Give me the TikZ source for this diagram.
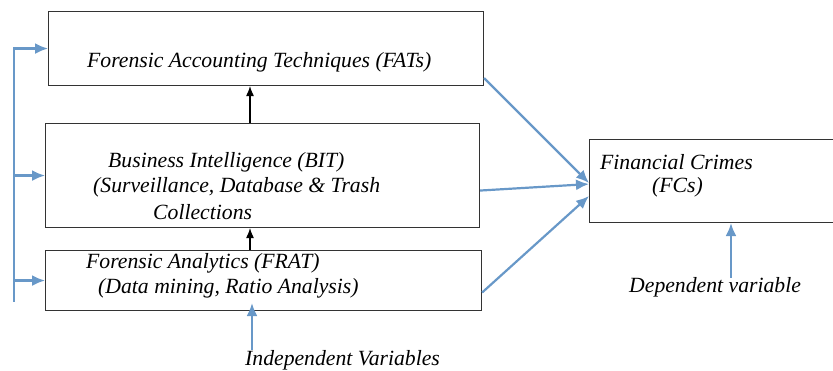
\documentclass[tikz,border=0pt]{standalone}
\usepackage{fontspec}
\setmainfont{Liberation Serif}
\usetikzlibrary{positioning,arrows.meta}
\definecolor{arrowblue}{RGB}{104,152,200}
\tikzset{>=latex}
\tikzset{
    box/.style={draw=black!80, line width=1.1pt, anchor=north west, inner sep=0pt},
    txt/.style={anchor=west, inner sep=0pt, font=\fontsize{21.7}{24}\selectfont\itshape},
    bluearrow/.style={draw=arrowblue, line width=2.2pt, -{Latex[length=13pt,width=11pt]}},
    blackarrow/.style={draw=black, line width=1.1pt, -{Latex[length=10pt,width=8pt]}},
}
\begin{document}
\begin{tikzpicture}[x=1pt,y=-1pt]
    \useasboundingbox (0,0) rectangle (833,371);

    % Boxes.
    \node[box, minimum width=435pt, minimum height=74pt]  (fat)  at (48,11)  {};
    \node[box, minimum width=434pt, minimum height=104pt] (bit)  at (45,123) {};
    \node[box, minimum width=436pt, minimum height=60pt]  (frat) at (45,250) {};
    \node[box, minimum width=250pt, minimum height=83pt]  (fc)   at (589,139) {};

    % Texts.
    \node[txt] (fattext)  at (87,62)   {Forensic Accounting Techniques (FATs)};
    \node[txt] (bittext1) at (108,162) {Business Intelligence (BIT)};
    \node[txt] (bittext2) at (93,187)  {(Surveillance, Database \& Trash};
    \node[txt] (bittext3) at (153,212) {Collections};
    \node[txt] (fratext1) at (86,263)  {Forensic Analytics (FRAT)};
    \node[txt] (fratext2) at (98,288)  {(Data mining, Ratio Analysis)};
    \node[txt] (fctext1)  at (600,162) {Financial Crimes};
    \node[txt] (fctext2)  at (652,187) {(FCs)};
    \node[txt] (indep)    at (245,360) {Independent Variables};
    \node[txt] (dep)      at (629,287) {Dependent variable};

    % Feedback bracket on the left.
    \coordinate (bbot) at (14,302);
    \draw[bluearrow] (bbot) |- (fat.west);
    \draw[bluearrow] (bbot |- bit.west) -- (bit.west);
    \draw[bluearrow] (bbot |- frat.west) -- (frat.west);

    % Black links.
    \coordinate (vx) at (250,0);
    \draw[blackarrow] (bit.north -| vx)  -- (fat.south -| vx);
    \draw[blackarrow] (frat.north -| vx) -- (bit.south -| vx);

    % Links to the dependent variable.
    \draw[bluearrow] ([yshift=8pt]fat.south east) -- ([yshift=-2pt]fc.west);
    \draw[bluearrow] ([yshift=-15pt]bit.east)     -- ([yshift=-3pt]fc.west);
    \draw[bluearrow] ([yshift=-12pt]frat.east)    -- ([yshift=-15pt]fc.west);

    % Variable labels.
    \coordinate (itail) at (252,350);
    \coordinate (dtail) at (731,278);
    \draw[bluearrow] (itail) -- ([yshift=8pt]frat.south -| itail);
    \draw[bluearrow] (dtail) -- (fc.south -| dtail);
\end{tikzpicture}
\end{document}
